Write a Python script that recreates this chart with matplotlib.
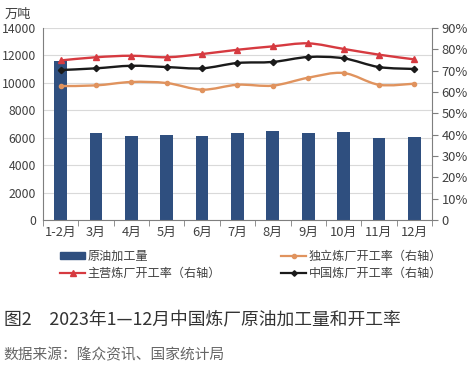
# 2023年1-12月中国炼厂原油加工量和开工率
import numpy as np
import matplotlib.pyplot as plt
from matplotlib.path import Path
from matplotlib.patches import PathPatch
from matplotlib.lines import Line2D

plt.rcParams['font.family'] = ['Noto Sans CJK SC', 'DejaVu Sans']

months = ['1-2月', '3月', '4月', '5月', '6月', '7月', '8月', '9月', '10月', '11月', '12月']
crude = [11620, 6350, 6150, 6220, 6150, 6350, 6490, 6320, 6420, 6000, 6080]
independent = [62.8, 63.1, 64.7, 64.2, 61.1, 63.4, 63.0, 66.7, 68.9, 63.4, 63.9]
main = [74.8, 76.3, 77.0, 76.3, 77.8, 79.8, 81.4, 82.8, 80.2, 77.5, 75.3]
china = [70.3, 71.1, 72.3, 71.7, 71.1, 73.6, 74.1, 76.4, 75.8, 71.7, 70.8]

c_bar = '#2f4f7f'
c_ind = '#e0935e'
c_main = '#d63a40'
c_cn = '#1a1a1a'
c_txt = '#404040'


def smooth_path(xs, ys):
    # Catmull-Rom style bezier, like Excel smoothed lines
    xs, ys = np.asarray(xs, float), np.asarray(ys, float)
    verts = [(xs[0], ys[0])]
    codes = [Path.MOVETO]
    n = len(xs)
    for i in range(n - 1):
        p0 = np.array([xs[max(i - 1, 0)], ys[max(i - 1, 0)]])
        p1 = np.array([xs[i], ys[i]])
        p2 = np.array([xs[i + 1], ys[i + 1]])
        p3 = np.array([xs[min(i + 2, n - 1)], ys[min(i + 2, n - 1)]])
        c1 = p1 + (p2 - p0) / 6
        c2 = p2 - (p3 - p1) / 6
        verts += [tuple(c1), tuple(c2), tuple(p2)]
        codes += [Path.CURVE4] * 3
    return Path(verts, codes)


fig = plt.figure(figsize=(4.74, 3.70), dpi=100)
ax = fig.add_axes([0.0907, 0.4054, 0.8207, 0.5189])
x = np.arange(len(months))

ax.bar(x, crude, width=0.36, color=c_bar, zorder=2)
ax.set_ylim(0, 14000)
ax.set_yticks(range(0, 14001, 2000))
ax.set_xlim(-0.5, len(months) - 0.5)
ax.set_xticks(x)
ax.set_xticklabels(months)
ax.set_xticks(np.arange(-0.5, len(months), 1), minor=True)
ax.tick_params(axis='x', which='major', length=0, pad=4, labelsize=9.3, labelcolor=c_txt)
ax.tick_params(axis='x', which='minor', length=4, color='#7f7f7f')
ax.tick_params(axis='y', length=0, labelsize=8.8, labelcolor=c_txt, pad=5)
ax.grid(axis='y', color='#d9d9d9', linewidth=0.8, zorder=0)
ax.set_axisbelow(True)
for s in ['top', 'right']:
    ax.spines[s].set_visible(False)
ax.spines['left'].set_color('#7f7f7f')
ax.spines['bottom'].set_color('#7f7f7f')

ax2 = ax.twinx()
ax2.set_ylim(0, 90)
ax2.set_yticks(range(0, 91, 10))
ax2.set_yticklabels(['0'] + [f'{v}%' for v in range(10, 91, 10)])
ax2.tick_params(axis='y', length=4, color='#7f7f7f', labelsize=9.3, labelcolor=c_txt, pad=3)
for s in ['top', 'left', 'bottom']:
    ax2.spines[s].set_visible(False)
ax2.spines['right'].set_color('#7f7f7f')

series = [
    (independent, c_ind, 'o', 3),
    (main, c_main, '^', 5),
    (china, c_cn, 'D', 3.2),
]
for ys, col, mk, ms in series:
    ax2.add_patch(PathPatch(smooth_path(x, ys), fill=False, edgecolor=col, linewidth=1.7, zorder=3))
    ax2.plot(x, ys, linestyle='none', marker=mk, markersize=ms, color=col, zorder=4)

fig.text(0.01, 0.978, '万吨', fontsize=9.5, color=c_txt, va='top')

handles = [
    plt.Rectangle((0, 0), 1, 1, color=c_bar),
    Line2D([], [], color=c_main, marker='^', markersize=4, linewidth=1.6),
    Line2D([], [], color=c_ind, marker='o', markersize=3, linewidth=1.6),
    Line2D([], [], color=c_cn, marker='D', markersize=2.8, linewidth=1.6),
]
labels = ['原油加工量', '主营炼厂开工率（右轴）', '独立炼厂开工率（右轴）', '中国炼厂开工率（右轴）']
fig.legend(handles, labels, ncol=2, loc='center', bbox_to_anchor=(0.53, 0.285),
           frameon=False, fontsize=8.7, labelcolor=c_txt, handlelength=2.0,
           handletextpad=0.25, columnspacing=5.0, labelspacing=0.35, handleheight=0.5)

fig.text(0.008, 0.135, '图2　2023年1—12月中国炼厂原油加工量和开工率', fontsize=12.8,
         color='#333333', va='center')
fig.text(0.008, 0.04, '数据来源：隆众资讯、国家统计局', fontsize=10.6, color='#666666', va='center')

fig.savefig('out.png', dpi=100)
